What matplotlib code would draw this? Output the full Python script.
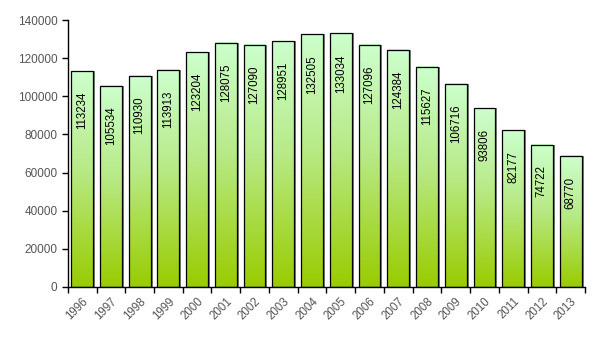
import matplotlib
matplotlib.use("Agg")
import matplotlib.pyplot as plt
import numpy as np
from matplotlib.colors import LinearSegmentedColormap
from matplotlib.patches import Rectangle

years = ["1996", "1997", "1998", "1999", "2000", "2001", "2002", "2003", "2004",
         "2005", "2006", "2007", "2008", "2009", "2010", "2011", "2012", "2013"]
values = [113234, 105534, 110930, 113913, 123204, 128075, 127090, 128951, 132505,
          133034, 127096, 124384, 115627, 106716, 93806, 82177, 74722, 68770]

plt.rcParams['font.family'] = ['Liberation Sans', 'DejaVu Sans']
fig = plt.figure(figsize=(6.0, 3.53), dpi=100)
ax = fig.add_axes([0.113, 0.187, 0.862, 0.756])

cmap = LinearSegmentedColormap.from_list("g", [(0, "#99cc00"), (0.55, "#b8ea88"), (1, "#ccffcc")])
grad = np.linspace(0, 1, 256).reshape(-1, 1)
width = 0.76
n = len(values)
for i, v in enumerate(values):
    x0 = i + 0.5 - width / 2
    # shadow
    ax.add_patch(Rectangle((x0 + 0.07, 0), width, v, facecolor="#808080",
                           edgecolor="none", zorder=1))
    ax.imshow(grad, extent=(x0, x0 + width, 0, v), origin="lower", cmap=cmap,
              aspect="auto", zorder=2, interpolation="bilinear")
    ax.add_patch(Rectangle((x0, 0), width, v, facecolor="none",
                           edgecolor="black", linewidth=0.9, zorder=3))
    ax.annotate(str(v), (i + 0.5, v), xytext=(0, -15), textcoords="offset points",
                rotation=90, ha="center", va="top", fontsize=8.3, zorder=4)

ax.set_xlim(0, n)
ax.set_ylim(0, 140000)
ax.set_yticks(np.arange(0, 140001, 20000))
ax.set_yticklabels([str(t) for t in range(0, 140001, 20000)], fontsize=8.5,
                   color="#555555")
ax.set_xticks(np.arange(0, n + 1))
ax.set_xticklabels([])
ax.set_xticks(np.arange(n) + 0.5, minor=True)
ax.set_xticklabels(years, minor=True, rotation=45, ha="right",
                   rotation_mode="anchor", fontsize=8.3, color="#555555")
ax.tick_params(axis="x", which="minor", length=0, pad=6)
ax.tick_params(axis="x", which="major", length=4, width=1)
ax.tick_params(axis="y", length=4, width=1)
for s in ["top", "right"]:
    ax.spines[s].set_visible(False)
for s in ["left", "bottom"]:
    ax.spines[s].set_linewidth(1)

fig.savefig("out.png", dpi=100)
